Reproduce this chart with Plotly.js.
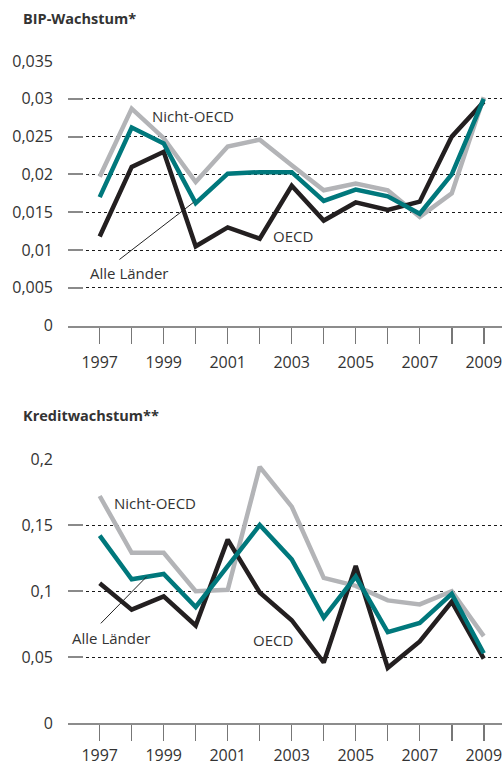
<!DOCTYPE html>
<html>
<head>
<meta charset="utf-8">
<script src="https://cdn.plot.ly/plotly-3.0.1.min.js"></script>
<style>
  html, body { margin: 0; padding: 0; background: #ffffff; }
  #chart { width: 502px; height: 767px; }
</style>
</head>
<body>
<div id="chart"></div>
<script>
// ---- Data ----
const years = [1997, 1998, 1999, 2000, 2001, 2002, 2003, 2004, 2005, 2006, 2007, 2008, 2009];
const xTickLabels = ['1997', '', '1999', '', '2001', '', '2003', '', '2005', '', '2007', '', '2009'];

const gdpNonOecd = [0.0197, 0.0287, 0.0248, 0.0190, 0.0237, 0.0246, 0.0212, 0.0179, 0.0188, 0.0179, 0.0144, 0.0175, 0.0302];
const gdpAll     = [0.0170, 0.0262, 0.0241, 0.0162, 0.0201, 0.0203, 0.0203, 0.0165, 0.0180, 0.0171, 0.0148, 0.0200, 0.0300];
const gdpOecd    = [0.0118, 0.0210, 0.0230, 0.0105, 0.0130, 0.0115, 0.0185, 0.0139, 0.0163, 0.0153, 0.0164, 0.0250, 0.0296];

const creditNonOecd = [0.172, 0.129, 0.129, 0.100, 0.101, 0.194, 0.164, 0.110, 0.104, 0.093, 0.090, 0.100, 0.066];
const creditAll     = [0.142, 0.109, 0.113, 0.088, 0.119, 0.150, 0.124, 0.080, 0.111, 0.069, 0.076, 0.098, 0.053];
const creditOecd    = [0.106, 0.086, 0.096, 0.074, 0.139, 0.099, 0.078, 0.046, 0.119, 0.042, 0.062, 0.092, 0.049];

const gdpTickVals = [0, 0.005, 0.01, 0.015, 0.02, 0.025, 0.03, 0.035];
const gdpTickText = ['0', '0,005', '0,01', '0,015', '0,02', '0,025', '0,03', '0,035'];
const creditTickVals = [0, 0.05, 0.1, 0.15, 0.2];
const creditTickText = ['0', '0,05', '0,1', '0,15', '0,2'];

const titleTop = 'BIP-Wachstum*';
const titleBottom = 'Kreditwachstum**';
const labelNonOecd = 'Nicht-OECD';
const labelAll = 'Alle Länder';
const labelOecd = 'OECD';

// ---- Styles ----
const W = 502, H = 767;
const cGray = '#b3b4b7', cTeal = '#00787c', cBlack = '#231f20';
const LW = 4.5;
const FONT = '"Open Sans", "DejaVu Sans", sans-serif';
const txtColor = '#333333';

function line(x, y, color, xa, ya) {
  return { x: x, y: y, type: 'scatter', mode: 'lines', xaxis: xa, yaxis: ya,
           line: { color: color, width: LW }, hoverinfo: 'skip' };
}

const traces = [
  line(years, gdpNonOecd, cGray, 'x', 'y'),
  line(years, gdpOecd, cBlack, 'x', 'y'),
  line(years, gdpAll, cTeal, 'x', 'y'),
  line(years, creditNonOecd, cGray, 'x2', 'y2'),
  line(years, creditOecd, cBlack, 'x2', 'y2'),
  line(years, creditAll, cTeal, 'x2', 'y2')
];

const xDomain = [68 / W, 1];
const xRange = [1996.01, 2009.57];

function xAxis(anchor, standoff) {
  return {
    domain: xDomain, range: xRange, anchor: anchor, fixedrange: true,
    tickmode: 'array', tickvals: years, ticktext: xTickLabels,
    ticks: 'outside', ticklen: 16, tickwidth: 1.5, tickcolor: '#777777',
    ticklabelstandoff: standoff, ticklabeloverflow: 'allow',
    tickfont: { family: FONT, size: 16, color: txtColor },
    showgrid: false, zeroline: false,
    showline: true, linecolor: '#8c8c8c', linewidth: 2
  };
}
function yAxis(domain, range, vals, text, anchor) {
  return {
    domain: domain, range: range, anchor: anchor, fixedrange: true,
    tickmode: 'array', tickvals: vals, ticktext: text,
    ticks: 'inside', ticklen: 15, tickwidth: 2, tickcolor: '#8a8a8a',
    ticklabelstandoff: 14, ticklabeloverflow: 'allow',
    tickfont: { family: FONT, size: 16, color: txtColor },
    showgrid: true, gridcolor: '#1a1a1a', gridwidth: 1, griddash: '3px,3px',
    zeroline: false, showline: false
  };
}

const layout = {
  width: W, height: H,
  margin: { l: 0, r: 0, t: 0, b: 0, pad: 0 },
  paper_bgcolor: '#ffffff', plot_bgcolor: '#ffffff',
  showlegend: false,
  font: { family: FONT, color: txtColor },
  xaxis: xAxis('y', 5),
  yaxis: yAxis([1 - 325.7 / H, 1 - 61 / H], [0, 0.035], gdpTickVals, gdpTickText, 'x'),
  xaxis2: xAxis('y2', 2.5),
  yaxis2: yAxis([1 - 723.3 / H, 1 - 459 / H], [0, 0.2], creditTickVals, creditTickText, 'x2'),
  annotations: [
    { xref: 'paper', yref: 'paper', x: 21 / W, y: 1 - 18 / H, xanchor: 'left', yanchor: 'middle',
      text: '<b>' + titleTop + '</b>', showarrow: false, font: { family: FONT, size: 14.5, color: txtColor } },
    { xref: 'paper', yref: 'paper', x: 21 / W, y: 1 - 415 / H, xanchor: 'left', yanchor: 'middle',
      text: '<b>' + titleBottom + '</b>', showarrow: false, font: { family: FONT, size: 14.5, color: txtColor } },
    // top chart labels
    { xref: 'x', yref: 'y', x: 1999.92, y: 0.02773, text: labelNonOecd, showarrow: false,
      font: { family: FONT, size: 15, color: txtColor } },
    { xref: 'x', yref: 'y', x: 2003.04, y: 0.0119, text: labelOecd, showarrow: false,
      font: { family: FONT, size: 15, color: txtColor } },
    { xref: 'x', yref: 'y', x: 1997.92, y: 0.0070, text: labelAll, showarrow: false,
      font: { family: FONT, size: 15, color: txtColor } },
    { xref: 'x', yref: 'y', x: 1999.93, y: 0.0163, axref: 'x', ayref: 'y', ax: 1997.57, ay: 0.0086,
      text: '', showarrow: true, arrowhead: 0, arrowwidth: 1, arrowcolor: '#222222', standoff: 0, startstandoff: 0 },
    // bottom chart labels
    { xref: 'x2', yref: 'y2', x: 1998.74, y: 0.1669, text: labelNonOecd, showarrow: false,
      font: { family: FONT, size: 15, color: txtColor } },
    { xref: 'x2', yref: 'y2', x: 2002.40, y: 0.0631, text: labelOecd, showarrow: false,
      font: { family: FONT, size: 15, color: txtColor } },
    { xref: 'x2', yref: 'y2', x: 1997.34, y: 0.0648, text: labelAll, showarrow: false,
      font: { family: FONT, size: 15, color: txtColor } },
    { xref: 'x2', yref: 'y2', x: 1998.47, y: 0.111, axref: 'x2', ayref: 'y2', ax: 1996.99, ay: 0.0745,
      text: '', showarrow: true, arrowhead: 0, arrowwidth: 1, arrowcolor: '#222222', standoff: 0, startstandoff: 0 }
  ]
};

Plotly.newPlot('chart', traces, layout, { staticPlot: true, displayModeBar: false });
</script>
</body>
</html>
